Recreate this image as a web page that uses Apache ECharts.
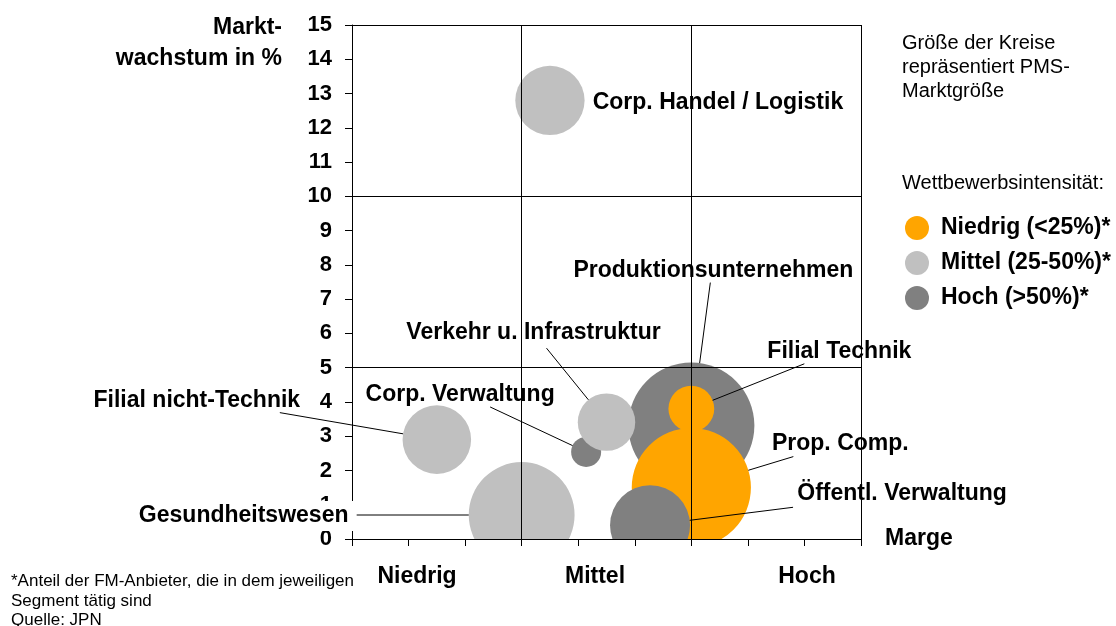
<!DOCTYPE html>
<html>
<head>
<meta charset="utf-8">
<title>Segmente: Marge vs. Marktwachstum</title>
<script src="https://cdn.jsdelivr.net/npm/echarts@6/dist/echarts.min.js"></script>
<style>
html,body{margin:0;padding:0;background:#fff;}
#main{width:1116px;height:626px;}
</style>
</head>
<body>
<div id="main"></div>
<script>
// Segmente (Reihenfolge = Zeichenreihenfolge)
var segmente = ['Corp. Handel / Logistik', 'Filial nicht-Technik', 'Gesundheitswesen', 'Corp. Verwaltung',
	'Produktionsunternehmen', 'Verkehr u. Infrastruktur', 'Prop. Comp.', 'Filial Technik', 'Öffentl. Verwaltung'];
var marge = [3.5, 1.5, 3.0, 4.14, 6.0, 4.5, 6.0, 6.0, 5.27];
var wachstum = [12.8, 2.9, 0.7, 2.54, 3.31, 3.41, 1.5, 3.8, 0.4];
var marktgroesse = [48, 47, 112, 9, 159, 33, 142, 21, 64];
// 0 = niedrig, 1 = mittel, 2 = hoch
var intensitaet = [1, 1, 1, 2, 2, 1, 0, 0, 2];
var stufen = ['Niedrig (<25%)*', 'Mittel (25-50%)*', 'Hoch (>50%)*'];
var margenKlassen = ['Niedrig', 'Mittel', 'Hoch'];

var farben = ['#FFA500', '#C0C0C0', '#808080'];
var FONT = 'Liberation Sans';
// Mitte der Beschriftung relativ zur Kreismitte (px)
var labelOffset = [[168, 2], [-240, -39], [-278, 1], [-126, -57], [22, -155], [-73, -89], [149, -44], [148, -57], [252, -32]];
// Startpunkt der Hinweislinie relativ zur Kreismitte (px), null = keine Linie
var linienStart = [null, [-157, -27], [-165, 0], [-96, -45], [19, -143], [-60, -74], [102, -31], [113, -45], [143, -18]];
var mitHintergrund = [false, false, true, false, false, false, false, false, false];
var klassenX = [417, 595, 807];

var chart = echarts.init(document.getElementById('main'));

// Durchmesser aus der Marktgröße (Fläche ~ Wert)
function durchmesser(v) {
	return Math.sqrt(v) * 10;
}

var punkte = [];
for (var i = 0; i < segmente.length; i++) {
	punkte.push([marge[i], wachstum[i], marktgroesse[i]]);
}

var series = [
	{
		// Kreise, an der Achse abgeschnitten
		name: 'kreise',
		type: 'custom',
		z: 1,
		clip: true,
		silent: true,
		encode: {x: 0, y: 1},
		data: punkte,
		renderItem: function(params, api) {
			var c = api.coord([api.value(0), api.value(1)]);
			return {
				type: 'circle',
				shape: {cx: c[0], cy: c[1], r: durchmesser(api.value(2)) / 2},
				style: {fill: farben[intensitaet[params.dataIndex]]}
			};
		}
	},
	{
		// Beschriftung mit Hinweislinien
		name: 'beschriftung',
		type: 'custom',
		z: 5,
		clip: false,
		silent: true,
		encode: {x: 0, y: 1},
		data: punkte,
		renderItem: function(params, api) {
			var idx = params.dataIndex;
			var c = api.coord([api.value(0), api.value(1)]);
			var r = durchmesser(api.value(2)) / 2;
			var o = labelOffset[idx];
			var kinder = [];
			var s = linienStart[idx];
			if (s) {
				var len = Math.sqrt(s[0] * s[0] + s[1] * s[1]);
				kinder.push({
					type: 'line',
					shape: {x1: c[0] + s[0], y1: c[1] + s[1], x2: c[0] + s[0] / len * r, y2: c[1] + s[1] / len * r},
					style: {stroke: '#000', lineWidth: 1}
				});
			}
			var st = {
				text: segmente[idx],
				x: c[0] + o[0],
				y: c[1] + o[1],
				align: 'center',
				verticalAlign: 'middle',
				font: 'bold 23px ' + FONT,
				fill: '#000'
			};
			if (mitHintergrund[idx]) {
				st.backgroundColor = '#fff';
				st.padding = [5, 6, 2, 6];
			}
			kinder.push({type: 'text', style: st});
			return {type: 'group', children: kinder};
		}
	}
];
// leere Reihen nur für die Legende
for (var k = 0; k < stufen.length; k++) {
	series.push({
		name: stufen[k],
		type: 'scatter',
		itemStyle: {color: farben[k], opacity: 1},
		data: []
	});
}

var graphics = [
	{
		type: 'text', x: 282, y: 12, z: 6,
		style: {text: 'Markt-\nwachstum in %', align: 'right', font: 'bold 23px ' + FONT, lineHeight: 31, fill: '#000'}
	},
	{
		type: 'text', x: 902, y: 31, z: 6,
		style: {text: 'Größe der Kreise\nrepräsentiert PMS-\nMarktgröße', font: '20px ' + FONT, lineHeight: 24, fill: '#000'}
	},
	{
		type: 'text', x: 902, y: 171, z: 6,
		style: {text: 'Wettbewerbsintensität:', font: '20px ' + FONT, lineHeight: 24, fill: '#000'}
	},
	{
		type: 'text', x: 11, y: 572, z: 6,
		style: {text: '*Anteil der FM-Anbieter, die in dem jeweiligen\nSegment tätig sind\nQuelle: JPN', font: '17px ' + FONT, lineHeight: 19.5, fill: '#000'}
	}
];
for (var m = 0; m < margenKlassen.length; m++) {
	graphics.push({
		type: 'text', x: klassenX[m], y: 577, z: 6,
		style: {text: margenKlassen[m], font: 'bold 23px ' + FONT, fill: '#000', align: 'center', verticalAlign: 'middle'}
	});
}

var option = {
	animation: false,
	textStyle: {fontFamily: FONT},
	grid: {left: 352, top: 25, width: 509, height: 514},
	legend: {
		orient: 'vertical',
		left: 905,
		top: 216,
		padding: 0,
		itemWidth: 24,
		itemHeight: 24,
		itemGap: 11,
		icon: 'circle',
		selectedMode: false,
		data: stufen,
		textStyle: {fontFamily: FONT, fontSize: 23, fontWeight: 'bold', color: '#000', padding: [0, 0, 0, 7]}
	},
	xAxis: [
		{
			type: 'value', min: 0, max: 9, interval: 1, z: 3,
			name: 'Marge', nameLocation: 'end', nameGap: 24,
			nameTextStyle: {fontFamily: FONT, fontSize: 23, fontWeight: 'bold', color: '#000'},
			axisLine: {show: true, lineStyle: {color: '#000', width: 1}},
			axisTick: {show: true, length: 7, lineStyle: {color: '#000'}},
			axisLabel: {show: false},
			splitLine: {show: false}
		},
		{
			// Quadrantenlinien
			type: 'value', min: 0, max: 9, interval: 3, z: 10, position: 'top',
			axisLine: {show: false}, axisTick: {show: false}, axisLabel: {show: false},
			splitLine: {show: true, showMinLine: false, lineStyle: {color: '#000', width: 1}}
		}
	],
	yAxis: [
		{
			type: 'value', min: 0, max: 15, interval: 1, z: 3,
			axisLine: {show: true, lineStyle: {color: '#000', width: 1}},
			axisTick: {show: true, length: 7, lineStyle: {color: '#000'}},
			axisLabel: {fontFamily: FONT, fontSize: 22, fontWeight: 'bold', color: '#000', margin: 20},
			splitLine: {show: false}
		},
		{
			type: 'value', min: 0, max: 15, interval: 5, z: 10, position: 'right',
			axisLine: {show: false}, axisTick: {show: false}, axisLabel: {show: false},
			splitLine: {show: true, showMinLine: false, lineStyle: {color: '#000', width: 1}}
		}
	],
	graphic: graphics,
	series: series
};
chart.setOption(option);
</script>
</body>
</html>
